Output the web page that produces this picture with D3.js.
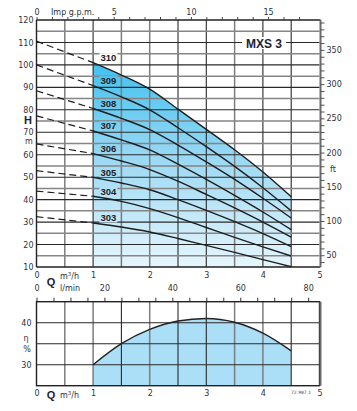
<!DOCTYPE html>
<html><head><meta charset="utf-8">
<script src="https://cdn.jsdelivr.net/npm/d3@7"></script>
<style>body{margin:0;background:#fff} svg{display:block}</style>
</head><body><svg id="c" width="357" height="411"></svg>
<script>
// ---------- data ----------
const flowQ = [0, 1, 1.5, 2, 2.5, 3, 3.5, 4, 4.5];
const modelNames = ["310", "309", "308", "307", "306", "305", "304", "303"];
const head310 = [110.6, 101.0, 95.5, 89.2, 80.3, 71.3, 62.2, 52.3, 41.3];
const head309 = [100.0, 90.8, 85.8, 80.0, 72.0, 63.6, 54.8, 45.3, 35.0];
const head308 = [88.5, 80.6, 76.2, 71.2, 64.3, 56.8, 49.0, 40.6, 31.8];
const head307 = [77.3, 70.6, 66.6, 62.2, 55.8, 49.0, 41.9, 34.5, 26.6];
const head306 = [64.8, 60.5, 57.2, 53.4, 48.2, 42.3, 36.3, 30.0, 23.3];
const head305 = [52.9, 49.9, 47.4, 44.4, 40.0, 35.2, 30.2, 24.9, 19.1];
const head304 = [43.8, 41.5, 39.2, 36.0, 32.0, 27.6, 23.2, 19.0, 14.9];
const head303 = [32.4, 29.6, 27.8, 25.6, 22.7, 19.6, 16.5, 13.3, 10.1];
const effQ = [1, 1.5, 2, 2.5, 3, 3.5, 4, 4.5];
const effVal = [30, 35.0, 38.4, 40.4, 41.0, 40.1, 37.5, 33.3];
const qTickLabels = [0, 1, 2, 3, 4, 5];
const gpmTickLabels = [0, 5, 10, 15];
const lminTickLabels = [0, 20, 40, 60, 80];
const hTickLabels = [10, 20, 30, 40, 50, 60, 70, 80, 90, 100, 110, 120];
const ftTickLabels = [50, 100, 150, 200, 250, 300, 350];
const effTickLabels = [30, 40];
const title = "MXS 3";
const docCode = "72.987.1";

const heads = [head310, head309, head308, head307, head306, head305, head304, head303];

// ---------- layout ----------
const svg = d3.select("#c");
const NUM = "DejaVu Sans, sans-serif";
const BOLD = "Liberation Sans, Arial, sans-serif";
const INK = "#2e3340";
const X0 = 36.5, X1 = 319.5;
const x = d3.scaleLinear().domain([0, 5]).range([X0, X1]);
const y = d3.scaleLinear().domain([10, 120]).range([267, 20]);
const M3H_TO_GPM = 3.6661, M3H_TO_LMIN = 1000 / 60, M_TO_FT = 3.28084;
const xg = d3.scaleLinear().domain([0, 5 * M3H_TO_GPM]).range([X0, X1]);
const xl = d3.scaleLinear().domain([0, 5 * M3H_TO_LMIN]).range([X0, X1]);
const yft = d3.scaleLinear().domain([10 * M_TO_FT, 120 * M_TO_FT]).range([267, 20]);
const ye = d3.scaleLinear().domain([25, 45]).range([385.7, 301.7]);
const fmt = d3.format("d");

const defs = svg.append("defs");
const grad = defs.append("linearGradient").attr("id", "g").attr("gradientUnits", "userSpaceOnUse")
  .attr("x1", 0).attr("x2", 0).attr("y1", 60).attr("y2", 267);
grad.append("stop").attr("offset", 0).attr("stop-color", "#3dc0ef");
grad.append("stop").attr("offset", 0.5).attr("stop-color", "#9fdaf4");
grad.append("stop").attr("offset", 1).attr("stop-color", "#e6f6fd");

const curve = d3.curveMonotoneX;
const solidPts = h => flowQ.map((q, i) => [q, h[i]]).filter(d => d[0] >= 1);
const dashPts = h => flowQ.map((q, i) => [q, h[i]]).filter(d => d[0] <= 1);

// ---------- upper chart ----------
const area = d3.area().x(d => x(d[0])).y0(y(10)).y1(d => y(d[1])).curve(curve);
svg.append("path").datum(solidPts(head310)).attr("d", area).attr("fill", "url(#g)");

// grid
const darkQ = [1, 2.5, 3, 4, 4.5];
const gridG = svg.append("g");
d3.range(0.5, 5, 0.5).forEach(q => {
  gridG.append("line").attr("x1", x(q)).attr("x2", x(q)).attr("y1", y(120)).attr("y2", y(10))
    .attr("stroke", darkQ.includes(q) ? "#2a2a2a" : "#7d7d7d").attr("stroke-width", darkQ.includes(q) ? 1.1 : 1.5);
});
d3.range(15, 120, 5).forEach(h => {
  const dark = h % 10 === 0;
  gridG.append("line").attr("x1", X0).attr("x2", X1).attr("y1", y(h)).attr("y2", y(h))
    .attr("stroke", dark ? "#2a2a2a" : "#858585").attr("stroke-width", dark ? 1.1 : 1.5);
});
// borders
svg.append("line").attr("x1", X0).attr("x2", X0).attr("y1", y(120)).attr("y2", y(10)).attr("stroke", "#222").attr("stroke-width", 1.4);
svg.append("line").attr("x1", X0).attr("x2", X1 + 1).attr("y1", y(120)).attr("y2", y(120)).attr("stroke", "#222").attr("stroke-width", 1.4);
svg.append("line").attr("x1", X0).attr("x2", X1 + 1).attr("y1", y(10)).attr("y2", y(10)).attr("stroke", "#222").attr("stroke-width", 1.4);

// right ft axis
const ftAxis = d3.axisRight(yft).tickValues(d3.range(40, 391, 10)).tickSize(4).tickPadding(2)
  .tickFormat(d => ftTickLabels.includes(d) ? d : "");
const gft = svg.append("g").attr("transform", `translate(${X1 + 1},0)`).call(ftAxis);
gft.select(".domain").attr("stroke", "#6a6a6a").attr("stroke-width", 2).attr("d", `M0,${y(120)}V${y(10)}`);
gft.selectAll(".tick line").attr("stroke", "#555");
gft.selectAll("text").attr("font-family", NUM).attr("font-size", 8).attr("fill", INK);
svg.append("text").attr("x", 330).attr("y", 172).text("ft").attr("font-family", NUM).attr("font-size", 8).attr("fill", INK);

// top gpm axis
const gpmAxis = d3.axisTop(xg).tickValues(d3.range(0, 18, 1)).tickSize(3).tickPadding(2)
  .tickFormat(d => gpmTickLabels.includes(d) ? d : "");
const gg = svg.append("g").attr("transform", `translate(0,${y(120)})`).call(gpmAxis);
gg.select(".domain").remove();
gg.selectAll(".tick line").attr("stroke", "#444");
gg.selectAll("text").attr("font-family", NUM).attr("font-size", 8).attr("fill", INK);
svg.append("text").attr("x", 51).attr("y", 15).text("Imp g.p.m.").attr("font-family", NUM).attr("font-size", 8).attr("fill", INK);

// left H axis
const hAxis = d3.axisLeft(y).tickValues(hTickLabels).tickSize(0).tickPadding(3);
const gh = svg.append("g").attr("transform", `translate(${X0},0)`).call(hAxis);
gh.select(".domain").remove();
gh.selectAll("text").attr("font-family", NUM).attr("font-size", 8).attr("fill", INK);
svg.append("text").attr("x", 28).attr("y", 124).attr("text-anchor", "middle").text("H")
  .attr("font-family", BOLD).attr("font-weight", "bold").attr("font-size", 11).attr("fill", "#1d2333");
svg.append("text").attr("x", 29).attr("y", 144).attr("text-anchor", "middle").text("m")
  .attr("font-family", NUM).attr("font-size", 8).attr("fill", INK);

// bottom Q (m3/h) axis of upper chart
const qAxis = d3.axisBottom(x).tickValues(qTickLabels).tickFormat(fmt).tickSize(0).tickPadding(5);
const gq = svg.append("g").attr("transform", `translate(0,${y(10)})`).call(qAxis);
gq.select(".domain").remove();
gq.selectAll("text").attr("font-family", NUM).attr("font-size", 8).attr("fill", INK);
svg.append("text").attr("x", 60).attr("y", 279).html("m<tspan dy='-3' font-size='5.5'>3</tspan><tspan dy='3'>/h</tspan>")
  .attr("font-family", NUM).attr("font-size", 8).attr("fill", INK);
svg.append("text").attr("x", 51).attr("y", 285.5).attr("text-anchor", "middle").text("Q")
  .attr("font-family", BOLD).attr("font-weight", "bold").attr("font-size", 11).attr("fill", "#1d2333");

// l/min axis (ticks above lower chart)
const lAxis = d3.axisTop(xl).tickValues(d3.range(0, 81, 5)).tickSize(4).tickPadding(7)
  .tickFormat(d => lminTickLabels.includes(d) ? d : "");
const gl = svg.append("g").attr("transform", `translate(0,${ye(45)})`).call(lAxis);
gl.select(".domain").remove();
gl.selectAll(".tick line").attr("stroke", "#333");
gl.selectAll("text").attr("font-family", NUM).attr("font-size", 8).attr("fill", INK);
svg.append("text").attr("x", 60).attr("y", 290.5).text("l/min").attr("font-family", NUM).attr("font-size", 8).attr("fill", INK);

// curve labels backgrounds
const labelQ = 1.27;
const labelG = svg.append("g");
heads.forEach((h, i) => {
  const cy = y(h[1]) - 5;
  labelG.append("rect").attr("x", x(labelQ) - 9).attr("y", cy - 4.5).attr("width", 18).attr("height", 9)
    .attr("fill", i === 0 ? "#fff" : "url(#g)");
});

// title
svg.append("rect").attr("x", 242).attr("y", 37).attr("width", 44).attr("height", 12).attr("fill", "#fff");
svg.append("text").attr("x", 264).attr("y", 47.5).attr("text-anchor", "middle").text(title)
  .attr("font-family", BOLD).attr("font-weight", "bold").attr("font-size", 12).attr("fill", "#1d2333");

// pump curves
const line = d3.line().x(d => x(d[0])).y(d => y(d[1])).curve(curve);
const curvesG = svg.append("g").attr("fill", "none").attr("stroke", "#1e1e1e");
heads.forEach(h => {
  curvesG.append("path").datum(solidPts(h)).attr("d", line).attr("stroke-width", 1.4);
  curvesG.append("path").datum(dashPts(h)).attr("d", d3.line().x(d => x(d[0])).y(d => y(d[1])))
    .attr("stroke-width", 1.2).attr("stroke-dasharray", "7,4");
});
heads.forEach((h, i) => {
  labelG.append("text").attr("x", x(labelQ)).attr("y", y(h[1]) - 5 + 3.3).attr("text-anchor", "middle")
    .text(modelNames[i]).attr("font-family", BOLD).attr("font-weight", "bold").attr("font-size", 9.5).attr("fill", "#222");
});

// ---------- lower chart ----------
const eArea = d3.area().x((d, i) => x(effQ[i])).y0(ye(25)).y1(d => ye(d)).curve(curve);
svg.append("path").datum(effVal).attr("d", eArea).attr("fill", "#abdef7");
const darkQe = [1.5, 2.5, 3, 4.5];
d3.range(0.5, 5, 0.5).forEach(q => {
  svg.append("line").attr("x1", x(q)).attr("x2", x(q)).attr("y1", ye(45)).attr("y2", ye(25))
    .attr("stroke", darkQe.includes(q) ? "#2a2a2a" : "#7d7d7d").attr("stroke-width", darkQe.includes(q) ? 1.1 : 1.5);
});
[30, 35, 40].forEach(v => {
  svg.append("line").attr("x1", X0).attr("x2", X1).attr("y1", ye(v)).attr("y2", ye(v)).attr("stroke", "#2a2a2a").attr("stroke-width", 1.1);
});
svg.append("rect").attr("x", X0).attr("y", ye(45)).attr("width", X1 - X0).attr("height", ye(25) - ye(45))
  .attr("fill", "none").attr("stroke", "#222").attr("stroke-width", 1.4);
svg.append("line").attr("x1", X1 + 1).attr("x2", X1 + 1).attr("y1", ye(45)).attr("y2", ye(25)).attr("stroke", "#6a6a6a").attr("stroke-width", 2);
svg.append("path").datum(effVal).attr("d", d3.line().x((d, i) => x(effQ[i])).y(d => ye(d)).curve(curve))
  .attr("fill", "none").attr("stroke", "#222").attr("stroke-width", 1.4);

const eAxis = d3.axisLeft(ye).tickValues(effTickLabels).tickSize(0).tickPadding(5);
const ge = svg.append("g").attr("transform", `translate(${X0},0)`).call(eAxis);
ge.select(".domain").remove();
ge.selectAll("text").attr("font-family", NUM).attr("font-size", 8).attr("fill", INK);
svg.append("text").attr("x", 26).attr("y", 341).attr("text-anchor", "middle").text("η").attr("font-family", NUM).attr("font-size", 8).attr("fill", INK);
svg.append("text").attr("x", 27).attr("y", 352).attr("text-anchor", "middle").text("%").attr("font-family", NUM).attr("font-size", 8).attr("fill", INK);

const qAxis2 = d3.axisBottom(x).tickValues(qTickLabels).tickFormat(fmt).tickSize(0).tickPadding(5);
const gq2 = svg.append("g").attr("transform", `translate(0,${ye(25)})`).call(qAxis2);
gq2.select(".domain").remove();
gq2.selectAll("text").attr("font-family", NUM).attr("font-size", 8).attr("fill", INK);
svg.append("text").attr("x", 60).attr("y", 397.5).html("m<tspan dy='-3' font-size='5.5'>3</tspan><tspan dy='3'>/h</tspan>")
  .attr("font-family", NUM).attr("font-size", 8).attr("fill", INK);
svg.append("text").attr("x", 51).attr("y", 398.5).attr("text-anchor", "middle").text("Q")
  .attr("font-family", BOLD).attr("font-weight", "bold").attr("font-size", 11).attr("fill", "#1d2333");
svg.append("text").attr("x", 301).attr("y", 393.5).attr("text-anchor", "middle").text(docCode)
  .attr("font-family", NUM).attr("font-size", 4.5).attr("fill", "#444");
</script></body></html>
